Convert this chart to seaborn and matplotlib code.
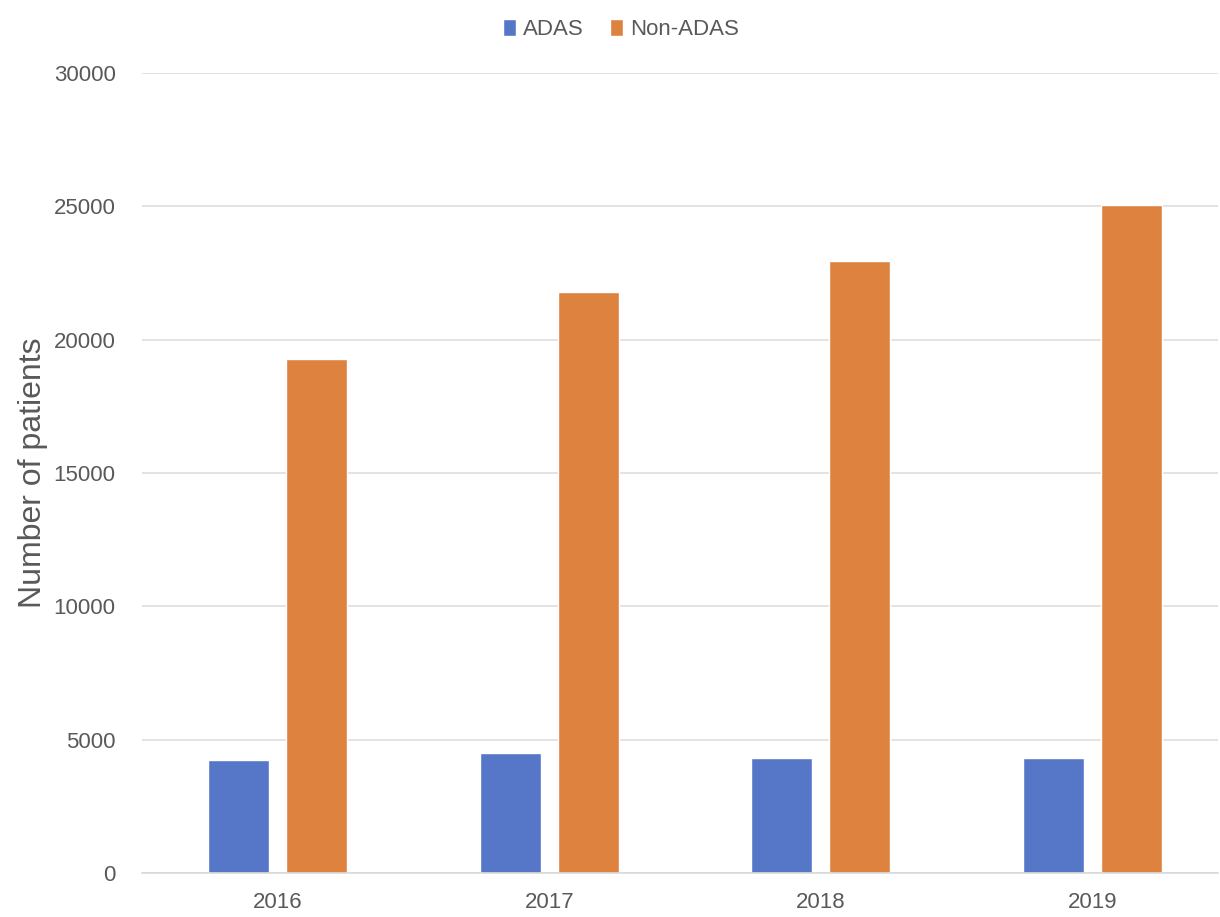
import numpy as np
import pandas as pd
import matplotlib
matplotlib.use('Agg')
import matplotlib.pyplot as plt
import seaborn as sns

years = ['2016', '2017', '2018', '2019']
adas = [4240, 4490, 4320, 4300]
non_adas = [19260, 21790, 22960, 25050]

df = pd.DataFrame({
    'Year': years * 2,
    'Patients': adas + non_adas,
    'Group': ['ADAS'] * 4 + ['Non-ADAS'] * 4,
})

sns.set_style('white')
plt.rcParams['font.family'] = ['Liberation Sans', 'DejaVu Sans']

fig = plt.figure(figsize=(12.2, 9.17), dpi=100)
ax = fig.add_axes([0.1164, 0.048, 0.8820, 0.8724])

sns.barplot(data=df, x='Year', y='Patients', hue='Group',
            palette=['#5677C8', '#DE823F'], width=0.574, gap=0.22,
            ax=ax, saturation=1, legend=True)

ax.set_ylim(0, 30000)
ax.set_xlim(-0.5, 3.463)
ax.set_yticks(range(0, 30001, 5000))
ax.yaxis.grid(True, color='#DEDEDE', linewidth=1.2)
ax.set_axisbelow(True)
for s in ['top', 'right', 'left']:
    ax.spines[s].set_visible(False)
ax.spines['bottom'].set_color('#D9D9D9')
ax.spines['bottom'].set_linewidth(1.2)
ax.tick_params(axis='both', length=0, labelsize=16, labelcolor='#595959')
ax.tick_params(axis='y', pad=19)
ax.tick_params(axis='x', pad=14)
ax.set_xlabel('')
ax.set_ylabel('Number of patients', fontsize=23, color='#595959', labelpad=4)

ax.legend(loc='upper center', bbox_to_anchor=(0.445, 1.093), ncol=2, frameon=False,
          fontsize=16, handlelength=0.6, handleheight=0.8, handletextpad=0.3,
          columnspacing=1.2, labelcolor='#595959')

plt.savefig('out.png', dpi=100)
